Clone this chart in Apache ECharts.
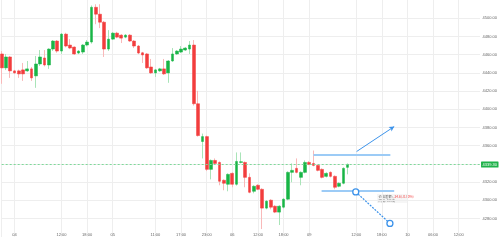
<!DOCTYPE html>
<html><head><meta charset="utf-8">
<script src="https://cdn.jsdelivr.net/npm/echarts@6/dist/echarts.min.js"></script>
<style>html,body{margin:0;padding:0;background:#fff}#c{width:500px;height:241px}</style>
</head><body><div id="c"></div>
<script>
// hourly candles: [open, close, low, high]
const candles = [
[4460.7,4445.4,4427.9,4463.9],[4445.4,4457.4,4443.0,4460.7],[4457.4,4442.1,4434.4,4458.5],[4442.1,4439.9,4438.8,4443.2],
[4442.1,4438.8,4434.4,4443.5],[4443.2,4438.8,4431.1,4450.8],[4442.1,4444.3,4441.0,4453.0],[4444.3,4434.4,4431.1,4446.4],
[4436.6,4449.7,4423.5,4458.5],[4449.7,4457.4,4447.5,4465.0],[4456.3,4448.6,4447.0,4465.0],[4448.6,4466.1,4444.3,4467.0],
[4466.1,4474.9,4464.0,4476.0],[4474.9,4463.9,4462.0,4476.0],[4463.9,4482.5,4460.7,4483.6],[4482.5,4469.4,4468.0,4484.0],
[4470.5,4467.2,4466.0,4477.0],[4468.3,4460.7,4459.6,4469.0],[4461.7,4463.9,4460.5,4465.0],[4462.8,4470.5,4460.7,4471.6],
[4470.5,4473.8,4469.0,4476.0],[4473.8,4512.0,4472.0,4514.0],[4512.0,4504.4,4493.4,4515.3],[4504.4,4495.6,4489.1,4515.3],
[4495.6,4466.1,4457.4,4497.0],[4466.1,4477.0,4464.0,4486.9],[4477.0,4483.6,4476.0,4484.7],[4483.6,4479.2,4478.0,4485.0],
[4481.4,4478.1,4472.7,4482.5],[4479.2,4481.4,4478.0,4482.5],[4481.4,4474.9,4474.0,4482.5],[4474.9,4469.4,4467.2,4476.0],
[4469.4,4461.7,4460.5,4470.5],[4462.0,4459.6,4450.8,4463.0],[4460.7,4445.4,4444.3,4461.7],[4446.4,4439.9,4438.8,4455.2],
[4439.9,4443.2,4435.5,4444.3],[4442.1,4444.3,4441.0,4445.4],[4444.3,4438.8,4437.7,4455.2],[4439.9,4453.0,4429.0,4454.0],
[4453.0,4460.7,4452.0,4467.2],[4460.7,4463.9,4459.6,4465.0],[4462.8,4466.1,4461.7,4469.4],[4465.0,4467.2,4464.0,4468.3],
[4466.1,4470.5,4460.7,4474.9],[4470.5,4406.0,4404.0,4476.0],[4406.0,4371.0,4369.9,4420.2],[4364.5,4369.9,4345.9,4373.2],
[4369.9,4333.9,4332.0,4371.0],[4333.9,4343.7,4322.9,4344.8],[4343.7,4340.4,4339.0,4345.9],[4341.5,4320.8,4316.4,4342.6],
[4321.9,4318.6,4310.9,4322.9],[4317.5,4328.4,4309.8,4329.5],[4329.5,4317.5,4314.2,4330.6],[4317.5,4342.6,4316.0,4352.5],
[4341.5,4342.3,4340.4,4352.5],[4341.5,4325.1,4314.2,4342.6],[4325.1,4308.7,4307.6,4329.5],[4309.8,4315.3,4307.6,4316.4],
[4316.4,4312.0,4311.0,4317.5],[4312.0,4291.3,4268.3,4313.1],[4291.3,4298.9,4290.0,4300.0],[4300.0,4292.3,4290.0,4301.1],
[4293.4,4286.9,4285.8,4294.5],[4286.9,4293.4,4272.7,4294.5],[4292.3,4301.1,4291.0,4302.2],[4301.1,4330.6,4300.0,4331.7],
[4330.6,4332.8,4319.7,4340.4],[4335.0,4330.6,4329.5,4345.9],[4325.1,4330.6,4316.4,4331.7],[4330.6,4341.5,4329.5,4343.7],
[4341.5,4339.3,4338.5,4343.0],[4340.4,4338.2,4337.2,4354.6],[4338.2,4332.8,4331.7,4339.3],[4333.9,4325.1,4324.0,4335.0],
[4326.2,4329.5,4325.0,4330.6],[4330.6,4326.2,4325.0,4331.7],[4326.2,4314.2,4312.0,4327.3],[4315.3,4318.6,4314.2,4319.7],
[4318.6,4335.0,4317.5,4336.1],[4336.1,4339.3,4328.4,4340.4]
];
const slotCount = 113;                       // hourly slots shown on the axis (incl. empty future)
const tickIndex = [3,14,20,26,36,42,48,54,60,66,72,83,89,95,101,107];
const tickLabels = ['04','12:00','18:00','05','11:00','17:00','23:00','06','12:00','18:00','09','12:00','18:00','10','06:00','12:00'];
const lastPrice = 4339.30;
// drawing-tool annotations (slot index, price)
const upperLevel = {from:73.0, to:91.0, price:4350.0};
const lowerLevel = {from:74.9, to:91.9, price:4310.9};
const arrowUp = [[83.1,4353.5],[91.9,4380.9]];
const measure = [[82.9,4309.1],[90.9,4274.5]];
const measureText = ['价格差额: ', '-34.6(-0.80%)', '间隔: 8 K线'];

const categories = [];
for (let i = 0; i < slotCount; i++) categories.push(String(i));
const labelMap = {};
tickIndex.forEach((t, k) => labelMap[t] = tickLabels[k]);
const bodies = candles.map(d => [d[0], d[1], Math.min(d[0], d[1]), Math.max(d[0], d[1])]);

const UP = '#18b546', DOWN = '#f23d3d';
const blue = '#3d93ea', blueLight = '#9ccbf6';

const chart = echarts.init(document.getElementById('c'), null, {renderer: 'canvas'});
chart.setOption({
  animation: false,
  grid: {left: 1.7, right: 19.6, top: -1.3, bottom: 4.4, containLabel: false},
  xAxis: [{
    type: 'category', data: categories, boundaryGap: false,
    axisLine: {show: false}, axisTick: {show: false},
    axisLabel: {
      interval: (i) => labelMap[i] !== undefined,
      formatter: (v, i) => labelMap[i] || '',
      fontSize: 4, color: '#666', margin: -1.5, verticalAlign: 'middle'
    },
    splitLine: {show: true, interval: (i) => labelMap[i] !== undefined, lineStyle: {color: '#eeeeee', width: 1}}
  }, {
    type: 'value', min: 0, max: slotCount - 1, show: false
  }],
  yAxis: {
    type: 'value', position: 'right', min: 4260, max: 4520, interval: 20, scale: true,
    axisLine: {show: true, lineStyle: {color: '#eeeeee'}}, axisTick: {show: false},
    axisLabel: {fontSize: 4, color: '#666', margin: 2.5, showMinLabel: false, showMaxLabel: false,
      formatter: (v) => v.toFixed(2)},
    splitLine: {show: true, showMinLine: false, showMaxLine: false, lineStyle: {color: '#eeeeee', width: 1}}
  },
  series: [{
    type: 'candlestick', name: 'wick', data: candles, barWidth: 1, clip: false,
    itemStyle: {color: '#a9e4b8', color0: '#f9b9b9', borderColor: '#a9e4b8', borderColor0: '#f9b9b9', borderWidth: 1}
  }, {
    type: 'candlestick', name: 'body', data: bodies, barWidth: 3.2, clip: false,
    itemStyle: {color: UP, color0: DOWN, borderColor: UP, borderColor0: DOWN, borderWidth: 0.5},
    markLine: {
      silent: true, symbol: 'none', animation: false,
      data: [{yAxis: lastPrice,
        lineStyle: {color: '#7fd99a', type: [2, 2], width: 1},
        label: {show: true, position: 'end', distance: 1, formatter: lastPrice.toFixed(2), color: '#fff',
          backgroundColor: '#1fb24a', fontSize: 4, padding: [1, 1.5], borderRadius: 0.5}}]
    }
  }, {
    type: 'scatter', name: 'draw', xAxisIndex: 1, yAxisIndex: 0, symbolSize: 0,
    data: [[arrowUp[0][0], arrowUp[0][1]]], silent: true,
    markLine: {
      silent: true, animation: false, symbol: 'none', label: {show: false},
      data: [
        [{coord: [upperLevel.from, upperLevel.price], lineStyle: {color: blueLight, width: 2, type: 'solid'}},
         {coord: [upperLevel.to, upperLevel.price]}],
        [{coord: [lowerLevel.from, lowerLevel.price], lineStyle: {color: blueLight, width: 2, type: 'solid'}},
         {coord: [lowerLevel.to, lowerLevel.price]}],
        [{coord: arrowUp[0], symbol: 'none', lineStyle: {color: blue, width: 1, type: 'solid'}},
         {coord: arrowUp[1], symbol: 'arrow', symbolSize: [4, 5]}],
        [{coord: measure[0], symbol: 'none', lineStyle: {color: blue, width: 1.2, type: [2, 1.2]}},
         {coord: measure[1], symbol: 'none'}]
      ]
    },
    markPoint: {
      silent: true, animation: false, symbol: 'circle', symbolSize: 6,
      itemStyle: {color: '#fff', borderColor: blue, borderWidth: 1.3},
      label: {show: false},
      data: [{coord: measure[0]}, {coord: measure[1]}]
    }
  }],
  graphic: [{
    type: 'group', left: 377, top: 194,
    children: [{
      type: 'rect', shape: {x: 0, y: 0, width: 31, height: 9}, style: {fill: 'rgba(240,240,240,0.6)'}
    }, {
      type: 'text', x: 1.5, y: 1, style: {
        text: '{a|' + measureText[0] + '}{b|' + measureText[1] + '}\n{a|' + measureText[2] + '}',
        rich: {a: {fontSize: 3.3, fill: '#666', lineHeight: 3.8, fontFamily: 'Noto Sans CJK SC'},
               b: {fontSize: 3.3, fill: '#f23d3d', lineHeight: 3.8, fontFamily: 'Noto Sans CJK SC'}}
      }
    }]
  }]
});
</script></body></html>
